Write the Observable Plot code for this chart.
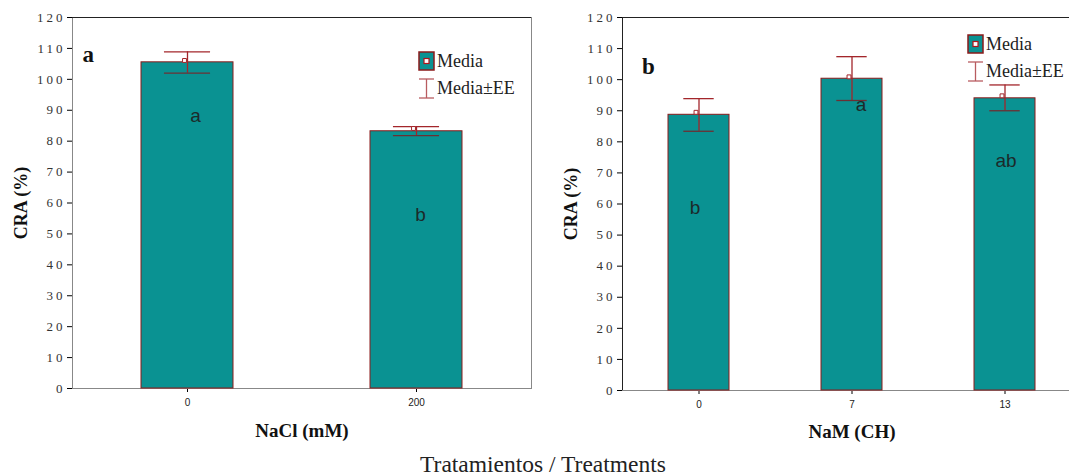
<!DOCTYPE html>
<html><head><meta charset="utf-8">
<script src="https://cdn.jsdelivr.net/npm/d3@7"></script>
<script src="https://cdn.jsdelivr.net/npm/@observablehq/plot@0.6"></script>
<style>
html,body{margin:0;padding:0;background:#fff;}
body{width:1069px;height:476px;overflow:hidden;position:relative;}
.panel{position:absolute;top:0;}
.panel svg{max-width:none !important;overflow:visible;}
.panel g[aria-label^="y-axis"] text{font-family:"Liberation Serif",serif;font-size:13px;letter-spacing:3px;fill:#333;}
.panel g[aria-label^="x-axis"] text{font-family:"Liberation Sans",Arial,sans-serif;font-size:10px;fill:#222;}
.overlay{position:absolute;overflow:visible;}
.overlay text{font-family:"Liberation Serif",serif;fill:#222;}
</style>
</head><body>
<div id="pa" class="panel" style="left:0px;width:540px"></div>
<div id="pb" class="panel" style="left:540px;width:546px"></div>
<svg id="legA" class="overlay" style="left:418px;top:50px" width="120" height="52"></svg>
<svg id="legB" class="overlay" style="left:967px;top:33px" width="120" height="52"></svg>
<svg id="cap" class="overlay" style="left:0;top:440px" width="1069" height="36"></svg>
<script>
// ---- data ----
const yTicks = [0, 10, 20, 30, 40, 50, 60, 70, 80, 90, 100, 110, 120];

const treatA   = ["0", "200"];
const meanA    = [105.5, 83.2];
const hiA      = [108.9, 84.7];
const loA      = [102.0, 81.8];
const markA    = [106.1, 84.1];
const lettersA = ["a", "b"];
const letterYA = [88.3, 56.0];

const treatB   = ["0", "7", "13"];
const meanB    = [88.7, 100.3, 94.0];
const hiB      = [93.9, 107.4, 98.3];
const loB      = [83.4, 93.3, 90.0];
const markB    = [89.5, 100.9, 94.8];
const lettersB = ["b", "a", "ab"];
const letterYB = [58.9, 91.9, 74.0];

// ---- styles ----
const TEAL = "#0a9292", BAR_STROKE = "#8b1a1a", ERR = "#a3262b";

function panel(cfg) {
  const rows = cfg.treat.map((t, i) => ({
    t, mean: cfg.mean[i], hi: cfg.hi[i], lo: cfg.lo[i], mark: cfg.mark[i],
    letter: cfg.letters[i], ly: cfg.letterY[i]
  }));
  const plotW = cfg.width - cfg.marginLeft - cfg.marginRight;
  const bw = 0.4 * plotW / rows.length;
  return Plot.plot({
    width: cfg.width, height: 440,
    marginTop: 17, marginBottom: cfg.marginBottom,
    marginLeft: cfg.marginLeft, marginRight: cfg.marginRight,
    style: "max-width:none;overflow:visible;background:white;",
    x: {type: "band", domain: cfg.treat, paddingInner: 0.6, paddingOuter: 0.3,
        label: null, tickSize: 4, tickPadding: 6},
    y: {domain: [0, 120], ticks: yTicks, tickSize: 5, tickPadding: 2, label: null},
    marks: [
      Plot.frame({stroke: cfg.frameStroke}),
      Plot.ruleY([cfg.ruleVal], {stroke: cfg.ruleStroke}),
      Plot.barY(rows, {x: "t", y: "mean", fill: TEAL, stroke: BAR_STROKE, strokeWidth: 1}),
      Plot.ruleX(rows, {x: "t", y1: "lo", y2: "hi", stroke: ERR, strokeWidth: 1.3}),
      Plot.tickY(rows, {x: "t", y: "hi", stroke: ERR, strokeWidth: 1.3, insetLeft: bw / 4, insetRight: bw / 4}),
      Plot.tickY(rows, {x: "t", y: "lo", stroke: "#6b3034", strokeWidth: 1.3, insetLeft: bw / 4, insetRight: bw / 4}),
      Plot.dot(rows, {x: "t", y: "mark", symbol: "square", r: 2.2, fill: "white", stroke: ERR, strokeWidth: 1, dx: -3}),
      ...rows.map((r, i) => Plot.text([r], {x: "t", y: "ly", text: "letter", dx: cfg.letterDx[i],
        fontFamily: "Liberation Sans, Arial, sans-serif", fontSize: 19, fill: "#1c2a2a"})),
      Plot.text([cfg.panelLabel], {text: d => d, frameAnchor: "top-left", dx: cfg.plDx, dy: cfg.plDy,
        textAnchor: "start", lineAnchor: "bottom", fontFamily: "Liberation Serif, serif",
        fontWeight: "bold", fontSize: 23, fill: "#111"}),
      Plot.text(["CRA (%)"], {text: d => d, frameAnchor: "left", rotate: -90, dx: -46,
        textAnchor: "middle", lineAnchor: "bottom", fontFamily: "Liberation Serif, serif",
        fontWeight: "bold", fontSize: 18, fill: "#111"}),
      Plot.text([cfg.xLabel], {text: d => d, frameAnchor: "bottom", dy: cfg.xlDy,
        textAnchor: "middle", lineAnchor: "bottom", fontFamily: "Liberation Serif, serif",
        fontWeight: "bold", fontSize: 19, fill: "#111"})
    ]
  });
}

document.getElementById("pa").append(panel({
  treat: treatA, mean: meanA, hi: hiA, lo: loA, mark: markA, letters: lettersA, letterY: letterYA,
  letterDx: [8, 4], width: 540, marginLeft: 72, marginRight: 9, marginBottom: 52,
  frameStroke: "#888", ruleVal: 120, ruleStroke: "#222",
  panelLabel: "a", plDx: 10, plDy: 44, xLabel: "NaCl (mM)", xlDy: 48.5
}));

document.getElementById("pb").append(panel({
  treat: treatB, mean: meanB, hi: hiB, lo: loB, mark: markB, letters: lettersB, letterY: letterYB,
  letterDx: [-4, 9, 1], width: 546, marginLeft: 82, marginRight: 5, marginBottom: 50,
  frameStroke: "#222", ruleVal: 0, ruleStroke: "#888",
  panelLabel: "b", plDx: 19.5, plDy: 56, xLabel: "NaM (CH)", xlDy: 47.5
}));

// ---- legends ----
function legend(id) {
  const s = d3.select(id);
  s.append("rect").attr("x", 1).attr("y", 2).attr("width", 15).attr("height", 18)
    .attr("fill", TEAL).attr("stroke", BAR_STROKE).attr("stroke-width", 1.5);
  s.append("rect").attr("x", 6).attr("y", 8.5).attr("width", 5).attr("height", 5)
    .attr("fill", "white").attr("stroke", "#b0151a").attr("stroke-width", 1.2);
  s.append("text").attr("x", 19).attr("y", 17).attr("font-size", 18).text("Media");
  const ec = "#b85c60";
  s.append("line").attr("x1", 8.5).attr("x2", 8.5).attr("y1", 29).attr("y2", 48).attr("stroke", ec).attr("stroke-width", 1.3);
  s.append("line").attr("x1", 1).attr("x2", 16).attr("y1", 29).attr("y2", 29).attr("stroke", ec).attr("stroke-width", 1.3);
  s.append("line").attr("x1", 1).attr("x2", 16).attr("y1", 48).attr("y2", 48).attr("stroke", ec).attr("stroke-width", 1.3);
  s.append("text").attr("x", 19).attr("y", 44).attr("font-size", 18).text("Media±EE");
}
legend("#legA");
legend("#legB");

d3.select("#cap").append("text").attr("x", 543).attr("y", 31.5).attr("text-anchor", "middle")
  .attr("font-size", 23.5).text("Tratamientos / Treatments");
</script>
</body></html>
